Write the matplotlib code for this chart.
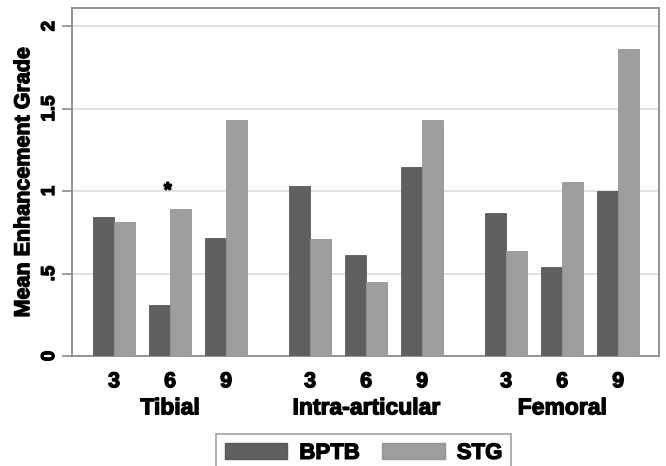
import matplotlib
matplotlib.use("Agg")
import matplotlib.pyplot as plt
import matplotlib.patheffects as pe
from matplotlib.patches import Patch

# valeurs
groups = ['Tibial', 'Intra-articular', 'Femoral']
months = ['3', '6', '9']
bptb = [0.84, 0.31, 0.715, 1.03, 0.615, 1.145, 0.87, 0.54, 1.0]
stg = [0.81, 0.89, 1.43, 0.71, 0.45, 1.43, 0.635, 1.055, 1.86]
yticks = [0, 0.5, 1, 1.5, 2]
ytick_labels = ['0', '.5', '1', '1.5', '2']

plt.rcParams['font.family'] = ['Liberation Sans', 'DejaVu Sans']
plt.rcParams['font.weight'] = 'bold'

dark = '#606060'
light = '#9e9e9e'
frame = '#8a8a8a'
# trait un peu plus epais pour imiter la police tres grasse
heavy = [pe.withStroke(linewidth=0.9, foreground='black')]

fig = plt.figure(figsize=(6.66, 4.66), dpi=100)
ax = fig.add_axes([72/666, 1-356/466, (659-72)/666, (356-8)/466])

# positions des barres : 3 groupes de 3 mois
pos = []
for g in range(len(groups)):
    for m in range(len(months)):
        pos.append(g*3.5 + m)
w = 0.375

ax.bar([p - w/2 for p in pos], bptb, width=w, color=dark, edgecolor='#585858', linewidth=0.6, zorder=3)
ax.bar([p + w/2 for p in pos], stg, width=w, color=light, edgecolor='#959595', linewidth=0.6, zorder=3)

# asterisque au dessus de Tibial 6
ax.text(0.96, 1.0, '*', ha='center', va='center', fontsize=15, zorder=4, path_effects=heavy)

ax.set_xlim(-0.75, 9.73)
ax.set_ylim(0, 2.11)

# grille horizontale
for y in yticks[1:]:
    ax.axhline(y, color='#dcdcdc', linewidth=1.2, zorder=1)

ax.set_yticks(yticks)
ax.set_yticklabels(ytick_labels, rotation=90, va='center', fontsize=13.5)
ax.set_xticks(pos)
ax.set_xticklabels(months * len(groups), fontsize=15.5)
ax.tick_params(axis='x', length=0, pad=11)
ax.tick_params(axis='y', length=7, width=1.2, color=frame, pad=3)
for t in ax.get_xticklabels() + ax.get_yticklabels():
    t.set_path_effects(heavy)

for s in ax.spines.values():
    s.set_color(frame)
    s.set_linewidth(1.3)

ax.set_ylabel('Mean Enhancement Grade', fontsize=15.5, fontweight='bold', labelpad=5,
              path_effects=heavy)

# noms des groupes sous les mois
for g in range(len(groups)):
    ax.text(g*3.5 + 1, -0.149, groups[g], transform=ax.get_xaxis_transform(),
            ha='center', va='center', fontsize=16.5, path_effects=heavy)

handles = [Patch(facecolor=dark, edgecolor='#585858'), Patch(facecolor=light, edgecolor='#959595')]
leg = fig.legend(handles, ['BPTB', 'STG'], loc='upper left', bbox_to_anchor=(216/666, 1-434/466),
                 ncol=2, fontsize=16, frameon=True, fancybox=False, borderaxespad=0,
                 handlelength=2.8, handleheight=0.72, handletextpad=0.55, columnspacing=1.0,
                 borderpad=0.4)
leg.get_frame().set_edgecolor(frame)
leg.get_frame().set_linewidth(1.2)
for t in leg.get_texts():
    t.set_path_effects(heavy)

plt.savefig('out.png', dpi=100)
